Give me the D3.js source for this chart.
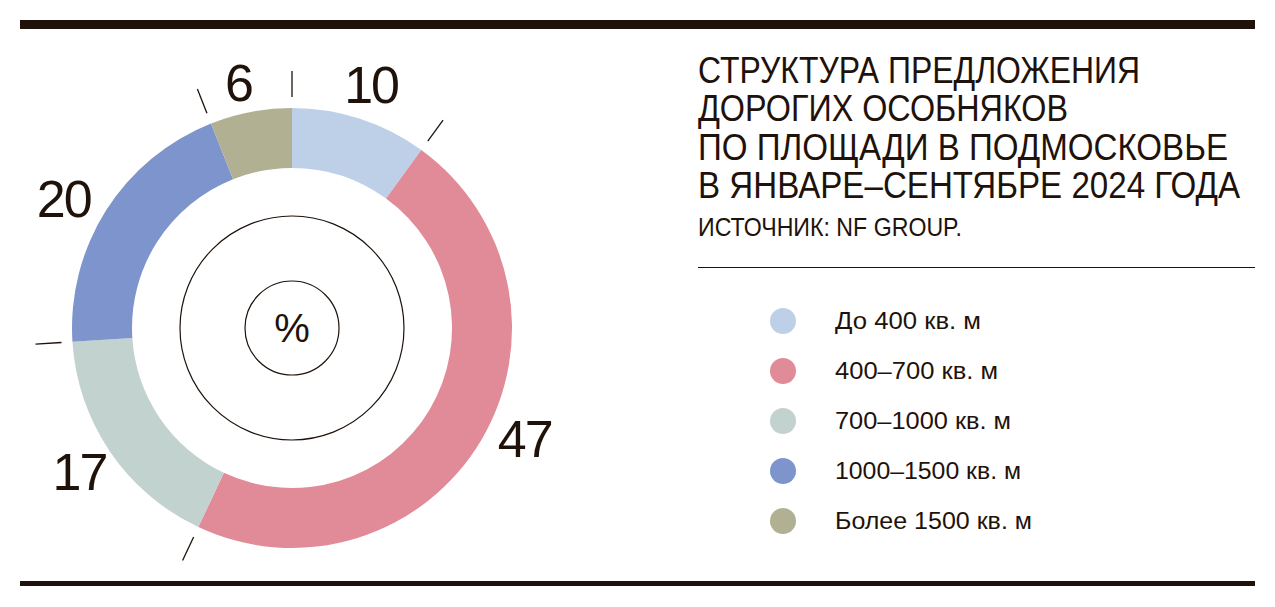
<!DOCTYPE html>
<html><head><meta charset="utf-8">
<script src="https://cdn.jsdelivr.net/npm/d3@7"></script>
<style>html,body{margin:0;padding:0;background:#fff;}svg{display:block;}</style>
</head><body>
<svg id="c" width="1275" height="607"></svg>
<script>
const categories = ["До 400 кв. м","400–700 кв. м","700–1000 кв. м","1000–1500 кв. м","Более 1500 кв. м"];
const values = [10, 47, 17, 20, 6];
const colors = ["#bdd0e7","#e28b98","#c2d2cf","#7d95cc","#b1b092"];
const titleLines = ["СТРУКТУРА ПРЕДЛОЖЕНИЯ","ДОРОГИХ ОСОБНЯКОВ","ПО ПЛОЩАДИ В ПОДМОСКОВЬЕ","В ЯНВАРЕ–СЕНТЯБРЕ 2024 ГОДА"];
const sourceText = "ИСТОЧНИК: NF GROUP.";
const unitText = "%";

// layout
const ink = "#1e120a";
const titleWidths = [442, 370, 530, 542];
const legendWidths = [146, 163, 176, 186, 197];
const labelAngleNudge = [0, -5, 0, -3, -1.5];   // degrees
const labelRadius = [256, 258, 257, 262, 251];
const cx = 292, cy = 328, R = 220, r = 160;

const svg = d3.select("#c");
const font = "'Liberation Sans', Arial, sans-serif";

// rules
svg.append("rect").attr("x",20).attr("y",20).attr("width",1235).attr("height",9).attr("fill",ink);
svg.append("rect").attr("x",20).attr("y",581).attr("width",1235).attr("height",5).attr("fill",ink);
svg.append("line").attr("x1",698).attr("x2",1255).attr("y1",267.5).attr("y2",267.5).attr("stroke",ink).attr("stroke-width",1);

// donut
const pie = d3.pie().sort(null).value(d=>d)(values);
const arc = d3.arc().innerRadius(r).outerRadius(R);
const g = svg.append("g").attr("transform",`translate(${cx},${cy})`);
g.selectAll("path.s").data(pie).join("path").attr("class","s")
  .attr("d",arc).attr("fill",(d,i)=>colors[i]);

// boundary ticks
const polar = (a, rr) => [Math.sin(a)*rr, -Math.cos(a)*rr];
g.selectAll("line.t").data(pie).join("line").attr("class","t")
  .each(function(d){
    const p1 = polar(d.startAngle, 231), p2 = polar(d.startAngle, 257);
    d3.select(this).attr("x1",p1[0]).attr("y1",p1[1]).attr("x2",p2[0]).attr("y2",p2[1]);
  })
  .attr("stroke",ink).attr("stroke-width",1.3);

// value labels
g.selectAll("text.v").data(pie).join("text").attr("class","v")
  .each(function(d,i){
    const a = (d.startAngle + d.endAngle)/2 + labelAngleNudge[i]*Math.PI/180;
    const p = polar(a, labelRadius[i]);
    d3.select(this).attr("x",p[0]).attr("y",p[1]);
  })
  .attr("text-anchor","middle").attr("dominant-baseline","central")
  .attr("font-family",font).attr("font-size",52).attr("fill",ink)
  .attr("letter-spacing",-2)
  .text(d=>d.data);

// inner circles
g.append("circle").attr("r",112).attr("fill","none").attr("stroke",ink).attr("stroke-width",1.2);
g.append("circle").attr("r",47).attr("fill","none").attr("stroke",ink).attr("stroke-width",1.2);
g.append("text").attr("x",0).attr("y",0).attr("text-anchor","middle").attr("dominant-baseline","central")
  .attr("font-family",font).attr("font-size",40).attr("fill",ink).text(unitText);

// title
svg.selectAll("text.title").data(titleLines).join("text").attr("class","title")
  .attr("x",698).attr("y",(d,i)=>83+i*38.4)
  .attr("font-family",font).attr("font-size",36).attr("fill",ink)
  .attr("textLength",(d,i)=>titleWidths[i]).attr("lengthAdjust","spacingAndGlyphs")
  .text(d=>d);
svg.append("text").attr("x",698).attr("y",235.5)
  .attr("font-family",font).attr("font-size",25).attr("fill",ink)
  .attr("textLength",264).attr("lengthAdjust","spacingAndGlyphs").text(sourceText);

// legend
const ly = d3.scalePoint().domain(categories).range([321,521]);
const lg = svg.append("g");
lg.selectAll("circle").data(categories).join("circle")
  .attr("cx",783).attr("cy",d=>ly(d)).attr("r",13).attr("fill",(d,i)=>colors[i]);
lg.selectAll("text").data(categories).join("text")
  .attr("x",835).attr("y",d=>ly(d)+8)
  .attr("font-family",font).attr("font-size",23).attr("fill",ink)
  .attr("textLength",(d,i)=>legendWidths[i]).attr("lengthAdjust","spacingAndGlyphs")
  .text(d=>d);
</script>
</body></html>
